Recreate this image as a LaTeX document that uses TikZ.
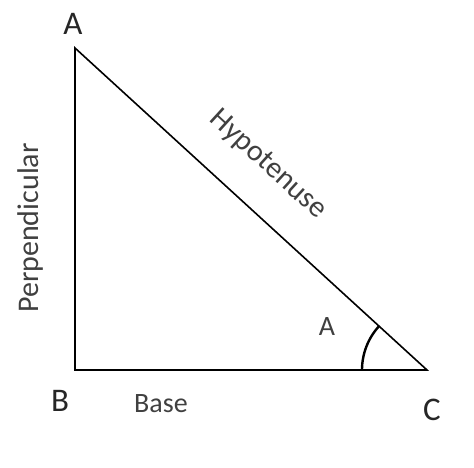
\documentclass[tikz,border=0pt]{standalone}
\usepackage{fontspec}
\setmainfont{Carlito}
\usetikzlibrary{angles,calc}

\begin{document}
\begin{tikzpicture}[
    x=1pt, y=-1pt,
    side/.style={line width=1.6pt, line join=miter},
    vertex/.style={font=\fontsize{33}{33}\selectfont, text=black!85},
    sidelabel/.style={font=\fontsize{30}{30}\selectfont, text=black!75}
]
\useasboundingbox (0,0) rectangle (474,467);

% corners of the triangle
\coordinate (A) at (75,48);
\coordinate (B) at (75,370);
\coordinate (C) at (427,370);

\draw[side] (A) -- (B) -- (C) -- cycle;
\pic[draw, line width=2.4pt, angle radius=65pt] {angle = A--C--B};

% vertex names
\node[vertex] (lblA) at (73,24) {A};
\node[vertex] (lblB) at (60,401) {B};
\node[vertex] (lblC) at (432,410) {C};

% side names
\node[sidelabel, rotate=90] (perp) at (31,228) {Perpendicular};
\node[sidelabel, rotate=-42.4] (hyp) at (268,165) {Hypotenuse};
\node[sidelabel, font=\fontsize{28}{28}\selectfont] (base) at (161,404) {Base};
\node[sidelabel, font=\fontsize{28}{28}\selectfont] (angA) at (327,327) {A};

\end{tikzpicture}
\end{document}
